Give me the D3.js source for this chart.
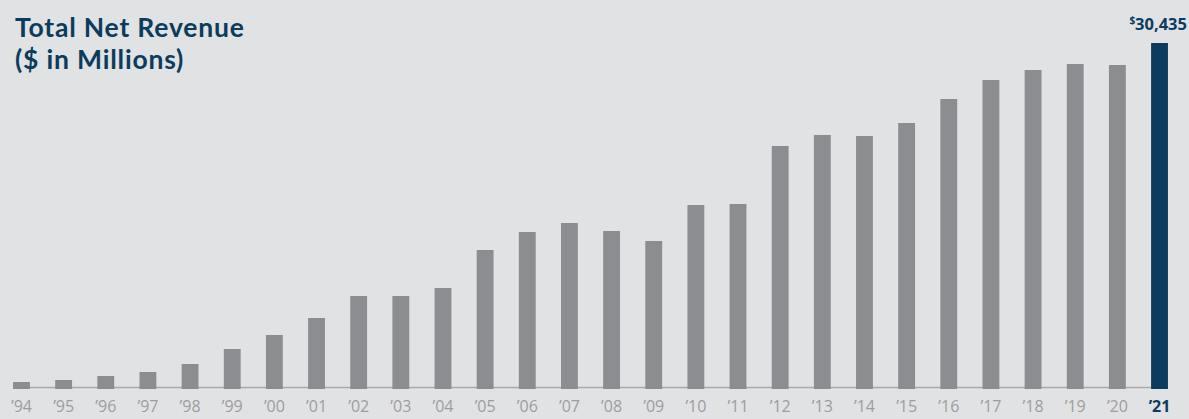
<!DOCTYPE html>
<html>
<head>
<meta charset="utf-8">
<script src="https://cdn.jsdelivr.net/npm/d3@7"></script>
<style>
  html, body { margin: 0; padding: 0; background: #e1e2e4; }
  svg { display: block; }
</style>
</head>
<body>
<svg id="revenueChart" width="1189" height="419"></svg>
<script>
// Total net revenue, $ millions
var years = ["94", "95", "96", "97", "98", "99", "00", "01", "02", "03", "04", "05", "06", "07",
             "08", "09", "10", "11", "12", "13", "14", "15", "16", "17", "18", "19", "20", "21"];
var revenue = [616, 792, 1144, 1495, 2199, 3519, 4750, 6245, 8181, 8181, 8884, 12227, 13810, 14602,
               13898, 13019, 16185, 16273, 21375, 22343, 22255, 23398, 25509, 27181, 28060, 28588, 28500, 30435];
var titleLines = ["Total Net Revenue", "($ in Millions)"];

var svg = d3.select("#revenueChart");
var navy = "#0b3c5d", barGrey = "#8c8d90", tickGrey = "#9c9d9f";
var lastYear = years[years.length - 1];

var x = d3.scaleBand()
    .domain(years)
    .range([0.4, 1180.6])
    .paddingInner(0.6)
    .paddingOuter(0.3);

var y = d3.scaleLinear()
    .domain([0, d3.max(revenue)])
    .range([389, 43]);

// baseline
svg.append("line")
    .attr("x1", x(years[0]))
    .attr("x2", x(lastYear) + x.bandwidth())
    .attr("y1", 387.5).attr("y2", 387.5)
    .style("stroke", "#a9aaac")
    .style("stroke-width", 1.5);

svg.append("g").selectAll("rect")
    .data(years)
    .join("rect")
    .attr("x", function (d) { return x(d); })
    .attr("width", x.bandwidth())
    .attr("y", function (d, i) { return y(revenue[i]); })
    .attr("height", function (d, i) { return y(0) - y(revenue[i]); })
    .attr("fill", function (d) { return d == lastYear ? navy : barGrey; });

// year labels
var xAxis = d3.axisBottom(x).tickSize(0).tickPadding(0).tickFormat(function (d) { return "\u2019" + d; });
var axisG = svg.append("g").attr("transform", "translate(0,401)").call(xAxis);
axisG.select(".domain").remove();
axisG.selectAll("text")
    .style("font-family", "'Open Sans', sans-serif")
    .style("font-size", "16px")
    .attr("fill", function (d) { return d == lastYear ? navy : tickGrey; })
    .style("font-weight", function (d) { return d == lastYear ? "bold" : "normal"; });

// value label on latest bar
var label = svg.append("text")
    .attr("x", 1187)
    .attr("y", 30)
    .attr("text-anchor", "end")
    .style("font-family", "'Open Sans', sans-serif")
    .style("font-weight", "bold")
    .attr("fill", navy);
label.append("tspan").style("font-size", "10px").attr("dy", -6).text("$");
label.append("tspan").style("font-size", "16.5px").attr("dy", 6).text(d3.format(",")(revenue[revenue.length - 1]));

// title
svg.append("g").selectAll("text")
    .data(titleLines)
    .join("text")
    .attr("x", 15)
    .attr("y", function (d, i) { return 37 + i * 32; })
    .style("font-family", "Lato, sans-serif")
    .style("font-weight", "bold")
    .style("font-size", "26.5px")
    .style("letter-spacing", "0.8px")
    .attr("fill", navy)
    .text(function (d) { return d; });
</script>
</body>
</html>
